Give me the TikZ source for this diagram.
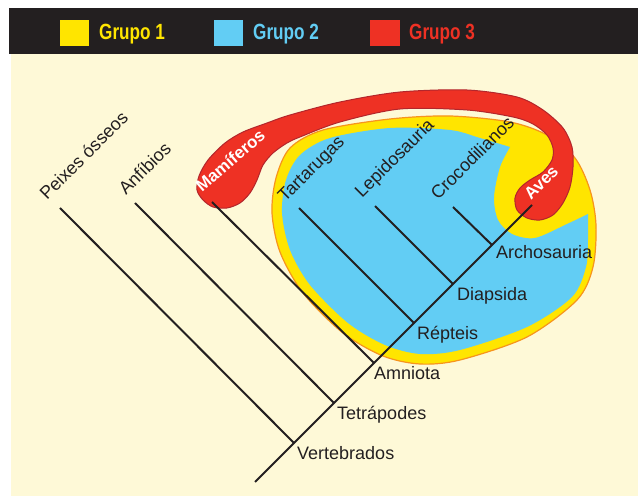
\documentclass[tikz,border=0pt]{standalone}
\usepackage{fontspec}
\setmainfont{Liberation Sans}
\definecolor{ink}{HTML}{231F20}
\definecolor{cream}{HTML}{FEF9D7}
\definecolor{gyellow}{HTML}{FFE500}
\definecolor{gblue}{HTML}{62CDF4}
\definecolor{gred}{HTML}{EE3124}
\definecolor{gorange}{HTML}{F7941D}
\definecolor{gdark}{HTML}{B3262C}
\begin{document}
\begin{tikzpicture}[x=1pt,y=1pt,
  lbl/.style={font=\fontsize{18}{20}\selectfont,text=ink,inner sep=0pt,anchor=base west},
  taxon/.style={lbl,rotate=45},
  whitelbl/.style={text=white,font=\bfseries\fontsize{17}{19}\selectfont},
  legtext/.style={font=\bfseries\fontsize{22}{24}\selectfont,inner sep=0pt,anchor=base west,xscale=0.78},
  branch/.style={draw=ink,line width=2pt}]
\useasboundingbox (0,0) rectangle (638,496);
\fill[ink] (9,442) rectangle (638,488);
\fill[cream] (11,0) rectangle (638,442);
\fill[gyellow] (60,450) rectangle (89,476);
\fill[gblue] (214,450) rectangle (243,476);
\fill[gred] (370,450) rectangle (400,476);
\node[legtext,text=gyellow] (g1) at (99,456) {Grupo 1};
\node[legtext,text=gblue] (g2) at (253,456) {Grupo 2};
\node[legtext,text=gred] (g3) at (409,456) {Grupo 3};
\filldraw[fill=gyellow,draw=gorange,line width=1.2pt] plot[smooth cycle] coordinates {
  (272,283) (276,318) (290,348) (323,366) (390,377) (450,380) (510,374) (547,361)
  (575,338) (590,306) (596,271) (593,229) (577,196) (527,159) (460,136) (420,132)
  (383,140) (343,163) (303,203) (280,244)};
\fill[gblue] plot[smooth] coordinates {
  (510,349) (500,329) (494,299) (498,276) (512,262) (535,258) (567,272) (588,282)}
  -- plot[smooth] coordinates {
  (588,282) (588,256) (586,229) (572,199) (527,169) (460,146) (420,142) (385,151)
  (348,173) (310,211) (290,246) (282,283) (286,316) (300,341) (330,358) (390,368)
  (450,366) (480,358) (510,349)} -- cycle;
\filldraw[fill=gred,draw=gdark,line width=1pt] plot[smooth cycle] coordinates {
  (213,289) (203,296) (197,306) (199,320) (208,336) (225,353) (243,364) (267,373)
  (290,381) (340,394) (400,404) (467,406) (517,399) (543,386) (563,368)
  (572,349) (573,329) (570,309) (563,293) (553,281) (540,276) (527,278) (517,286)
  (515,298) (520,308) (530,316) (543,324) (552,336) (553,348) (547,361) (533,372)
  (513,379) (467,386) (400,387) (340,374) (300,359) (287,353) (273,343) (263,331)
  (257,316) (250,303) (240,293) (227,288)};
\coordinate (r0) at (255,14);
\coordinate (vt) at (294,53);
\coordinate (tt) at (334,93);
\coordinate (am) at (374,133);
\coordinate (rp) at (414,173);
\coordinate (dp) at (453,212);
\coordinate (ar) at (492,251);
\coordinate (av) at (532,291);
\coordinate (px) at (60,288);
\coordinate (an) at (135,293);
\coordinate (mm) at (212,294);
\coordinate (tr) at (299,288);
\coordinate (lp) at (375,290);
\coordinate (cr) at (453,289);
\draw[branch] (r0) -- (av);
\draw[branch] (vt) -- (px);
\draw[branch] (tt) -- (an);
\draw[branch] (am) -- (mm);
\draw[branch] (rp) -- (tr);
\draw[branch] (dp) -- (lp);
\draw[branch] (ar) -- (cr);
\node[lbl] (vtl) at ([shift={(3,-17)}]vt) {Vertebrados};
\node[lbl] (ttl) at ([shift={(3,-17)}]tt) {Tetrápodes};
\node[lbl] (aml) at ([shift={(0,-17)}]am) {Amniota};
\node[lbl] (rpl) at ([shift={(3,-17)}]rp) {Répteis};
\node[lbl] (dpl) at ([shift={(4,-17)}]dp) {Diapsida};
\node[lbl] (arl) at ([shift={(4,-14)}]ar) {Archosauria};
\node[taxon] (pxl) at ([shift={(-13,7)}]px) {Peixes ósseos};
\node[taxon] (anl) at ([shift={(-9,7)}]an) {Anfíbios};
\node[taxon,whitelbl,rotate=-4] (mml) at ([shift={(-10,9)}]mm) {Mamíferos};
\node[taxon] (trl) at ([shift={(-14,5)}]tr) {Tartarugas};
\node[taxon] (lpl) at ([shift={(-13,7)}]lp) {Lepidosauria};
\node[taxon] (crl) at ([shift={(-15,6)}]cr) {Crocodilianos};
\node[taxon,whitelbl] (avl) at ([shift={(-1,4)}]av) {Aves};
\end{tikzpicture}
\end{document}
